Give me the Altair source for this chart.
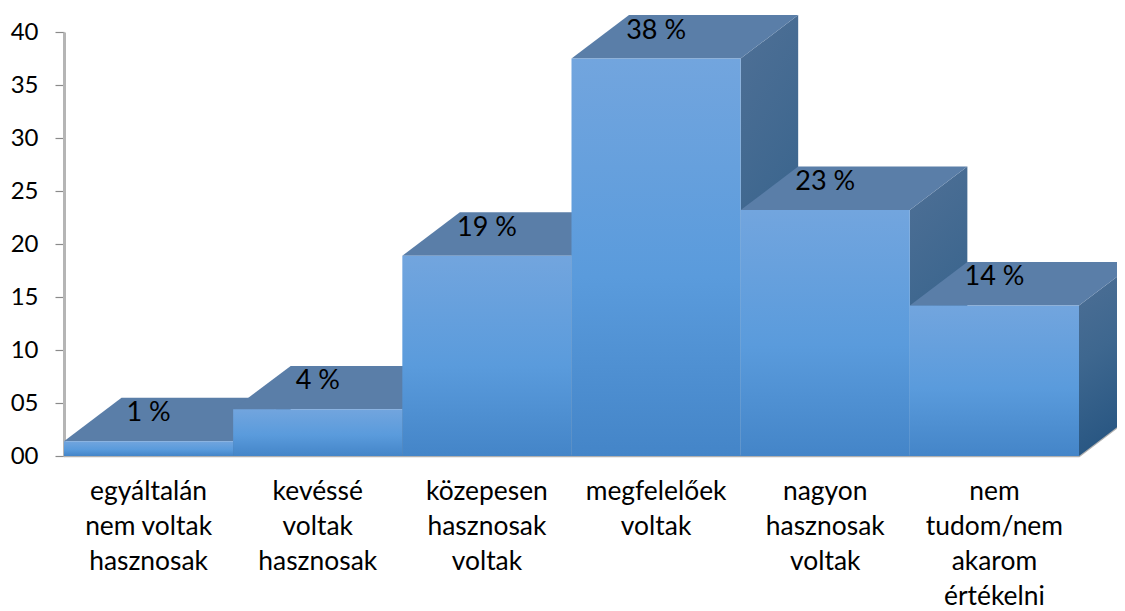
import altair as alt
import pandas as pd

categories = ["egyáltalán|nem voltak|hasznosak", "kevéssé|voltak|hasznosak", "közepesen|hasznosak|voltak",
              "megfelelőek|voltak", "nagyon|hasznosak|voltak", "nem|tudom/nem|akarom|értékelni"]
values = [1.4, 4.4, 18.9, 37.5, 23.2, 14.2]
pct_labels = ["1 %", "4 %", "19 %", "38 %", "23 %", "14 %"]
y_ticks = [0, 5, 10, 15, 20, 25, 30, 35, 40]
DX = 0.34   # depth, in category widths
DY = 4.1    # depth, in value units
FONT = "Lato"
FS = 26.4

front = pd.DataFrame({"x": [i for i in range(6)], "x2": [i + 1 for i in range(6)],
                      "y0": [0] * 6, "y": values, "cat": categories, "pct": pct_labels,
                      "mid": [i + 0.5 for i in range(6)]})
side_rows, top_rows = [], []
for i, v in enumerate(values):
    side_rows += [{"b": i, "x": i + 1, "y": 0, "y2": v},
                  {"b": i, "x": i + 1 + DX, "y": DY, "y2": v + DY}]
    top_rows += [{"b": i, "y": v, "x": i, "x2": i + 1},
                 {"b": i, "y": v + DY, "x": i + DX, "x2": i + 1 + DX}]
side = pd.DataFrame(side_rows)
top = pd.DataFrame(top_rows)
floor = pd.DataFrame({"x": [0, 6, 6 + DX], "y": [0, 0, DY]})

xs = alt.Scale(domain=[0, 6], nice=False, zero=False)
ys = alt.Scale(domain=[0, 40], nice=False)
y_axis = alt.Axis(values=y_ticks, format="02d", labelFont=FONT, labelFontSize=24, labelColor="#000000",
                  labelPadding=17, tickSize=9, tickColor="#8a8a8a", tickWidth=1.2, domainColor="#b5b5b5",
                  domainWidth=3, grid=False, labelOverlap=False, title=None)
X = lambda f="x": alt.X(f"{f}:Q", scale=xs, axis=None)
Y = lambda f="y": alt.Y(f"{f}:Q", scale=ys, axis=y_axis)

def grad(c, x2=0, y2=1):
    return alt.LinearGradient(gradient="linear", x1=0, y1=0, x2=x2, y2=y2,
                              stops=[alt.GradientStop(offset=o, color=k) for o, k in c])

floor_layer = alt.Chart(floor).mark_line(color="#b0b0b0", strokeWidth=2.5).encode(x=X(), y=Y())

side_layer = alt.Chart(side).mark_area(
    color=grad([(0, "#4f7096"), (0.5, "#3e678f"), (1, "#285682")], x2=0.2, y2=1)
).encode(x=X(), y=Y(), y2="y2:Q", detail="b:N")

top_layer = alt.Chart(top).mark_area(orient="horizontal", color="#5a7ea8").encode(
    y=Y(), x=X(), x2="x2:Q", detail="b:N")

front_layer = alt.Chart(front).mark_rect(
    color=grad([(0, "#72a5de"), (0.55, "#5a9bdc"), (1, "#4485c8")])
).encode(x=X(), x2="x2:Q", y=Y(), y2="y0:Q")

pct_layer = alt.Chart(front).mark_text(font=FONT, fontSize=27, color="#000000", dy=-28, baseline="middle").encode(
    x=X("mid"), y=Y(), text="pct:N")

cat_layer = alt.Chart(front).mark_text(font=FONT, fontSize=FS, color="#000000", lineBreak="|", lineHeight=35,
                                       baseline="top", align="center").encode(
    x=X("mid"), y=alt.value(447), text="cat:N")

chart = alt.layer(floor_layer, side_layer, top_layer, front_layer, pct_layer, cat_layer).properties(
    width=1015, height=424,
    padding={"left": 56, "top": 24, "right": 38, "bottom": 155},
    autosize=alt.AutoSizeParams(type="none"),
).configure_view(stroke=None)

chart.save("out.html", embed_options={"renderer": "svg", "actions": False})
